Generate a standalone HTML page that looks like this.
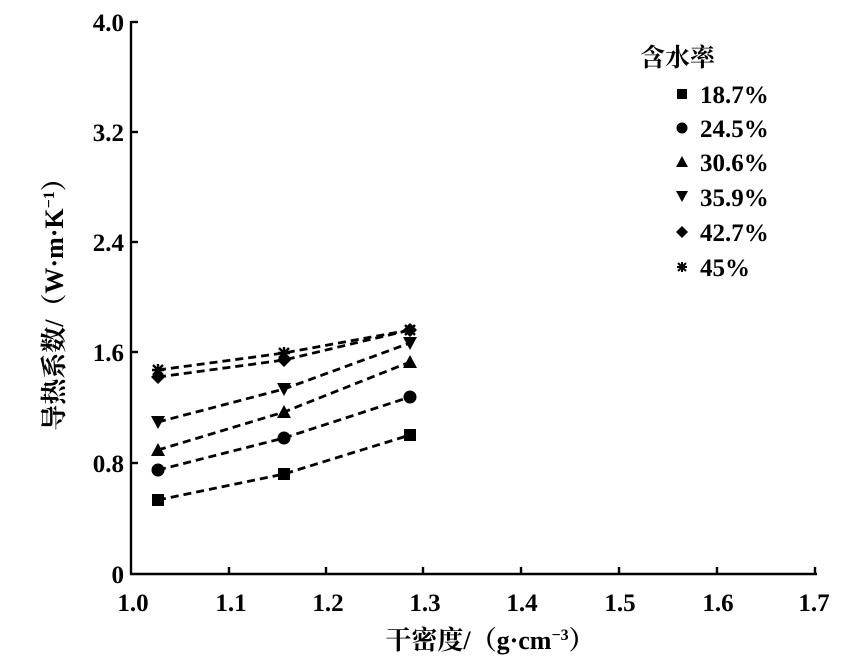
<!DOCTYPE html>
<html><head><meta charset="utf-8"><style>
html,body{margin:0;padding:0;background:#fff;}
svg{display:block;}
text{font-family:"Liberation Serif","Noto Serif CJK SC",serif;fill:#000;font-weight:bold;}
</style></head><body>
<svg width="851" height="662" viewBox="0 0 851 662">
<g stroke="#000" stroke-width="2.4" fill="none">
<line x1="131" y1="21" x2="131" y2="574"/>
<line x1="130" y1="574" x2="817" y2="574"/>
<line x1="131" y1="22" x2="138" y2="22"/>
<line x1="131" y1="132" x2="138" y2="132"/>
<line x1="131" y1="242" x2="138" y2="242"/>
<line x1="131" y1="352" x2="138" y2="352"/>
<line x1="131" y1="463" x2="138" y2="463"/>
<line x1="229" y1="574" x2="229" y2="567"/>
<line x1="326" y1="574" x2="326" y2="567"/>
<line x1="423" y1="574" x2="423" y2="567"/>
<line x1="521" y1="574" x2="521" y2="567"/>
<line x1="619" y1="574" x2="619" y2="567"/>
<line x1="717" y1="574" x2="717" y2="567"/>
<line x1="815" y1="574" x2="815" y2="567"/>
</g>
<g font-size="25" text-anchor="end">
<text x="124" y="31">4.0</text>
<text x="124" y="141">3.2</text>
<text x="124" y="251">2.4</text>
<text x="124" y="361">1.6</text>
<text x="124" y="472">0.8</text>
<text x="124" y="583">0</text>
</g>
<g font-size="25" text-anchor="middle">
<text x="133" y="611">1.0</text>
<text x="231" y="611">1.1</text>
<text x="328" y="611">1.2</text>
<text x="425" y="611">1.3</text>
<text x="522" y="611">1.4</text>
<text x="620" y="611">1.5</text>
<text x="718" y="611">1.6</text>
<text x="814" y="611">1.7</text>
</g>
<text x="490" y="649" font-size="26" text-anchor="middle">干密度/（g·cm<tspan font-size="16" dy="-9">−3</tspan><tspan dy="9">）</tspan></text>
<text transform="translate(63,298) rotate(-90)" font-size="26" text-anchor="middle">导热系数/（W·m·K<tspan font-size="16" dy="-9">−1</tspan><tspan dy="9">）</tspan></text>
<g stroke="#000" stroke-width="2.8" stroke-dasharray="8,5" fill="none">
<polyline points="158,500 284,474 410,435"/>
<polyline points="158,470 284,438 410,397"/>
<polyline points="158,450 284,412 410,362"/>
<polyline points="158,422 284,389 410,343"/>
<polyline points="158,377 284,360 410,330"/>
<polyline points="158,370 284,353 410,330"/>
</g>
<g fill="#000">
<rect x="152" y="494" width="12" height="12"/><rect x="278" y="468" width="12" height="12"/><rect x="404" y="429" width="12" height="12"/>
<circle cx="158" cy="470" r="6.5"/><circle cx="284" cy="438" r="6.5"/><circle cx="410" cy="397" r="6.5"/>
<polygon points="158,443 151,456 165,456"/><polygon points="284,405 277,418 291,418"/><polygon points="410,355 403,368 417,368"/>
<polygon points="158,429 151,416 165,416"/><polygon points="284,396 277,383 291,383"/><polygon points="410,350 403,337 417,337"/>
<polygon points="158,370 165,377 158,384 151,377"/><polygon points="284,353 291,360 284,367 277,360"/><polygon points="410,323 417,330 410,337 403,330"/>
</g>
<g stroke="#000" stroke-width="2.4">
<path d="M152,370h12M158,364v12M153,365l10,10M163,365l-10,10"/>
<path d="M278,353h12M284,347v12M279,348l10,10M289,348l-10,10"/>
<path d="M404,330h12M410,324v12M405,325l10,10M415,325l-10,10"/>
</g>
<text x="640" y="66" font-size="25">含水率</text>
<g font-size="25">
<text x="700" y="103">18.7%</text>
<text x="700" y="137">24.5%</text>
<text x="700" y="171">30.6%</text>
<text x="700" y="206">35.9%</text>
<text x="700" y="241">42.7%</text>
<text x="700" y="276">45%</text>
</g>
<g fill="#000">
<rect x="677" y="89" width="10" height="10"/>
<circle cx="682" cy="128" r="5.5"/>
<polygon points="682,156 676,167 688,167"/>
<polygon points="682,202 676,191 688,191"/>
<polygon points="682,226 688,232 682,238 676,232"/>
</g>
<path d="M677,267h10M682,262v10M678,263l8,8M686,263l-8,8" stroke="#000" stroke-width="2"/>
</svg>
</body></html>
